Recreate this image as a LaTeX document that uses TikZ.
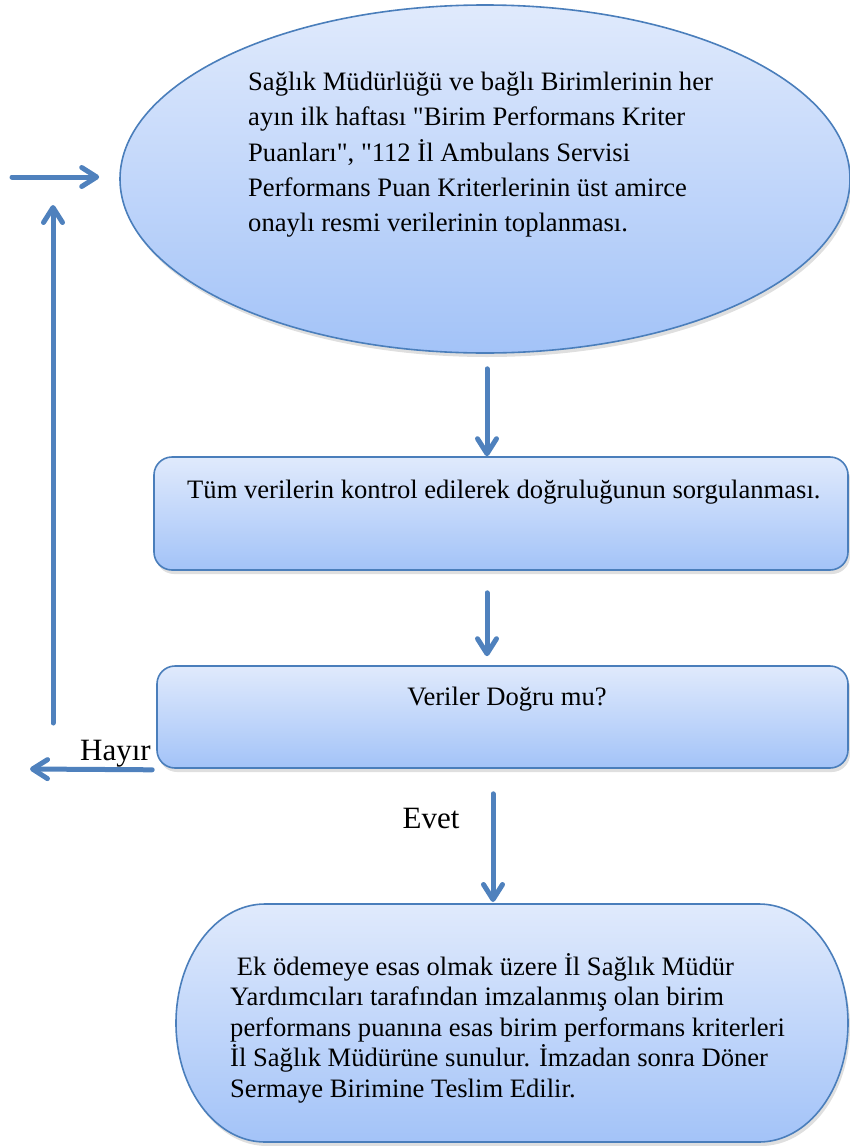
\documentclass[tikz,border=0pt]{standalone}
\usepackage{fontspec}
\setmainfont{Liberation Serif}[Ligatures=TeXOff]
\usetikzlibrary{shapes.geometric,shadows,arrows.meta}
\definecolor{edgec}{RGB}{74,126,187}
\definecolor{arrowc}{RGB}{79,129,189}
\definecolor{topc}{RGB}{224,234,252}
\definecolor{botc}{RGB}{163,195,248}
\begin{document}
\begin{tikzpicture}[x=1pt,y=-1pt,
  blob/.style={draw=edgec, line width=1.6pt, top color=topc, bottom color=botc,
    drop shadow={shadow xshift=2pt,shadow yshift=-4pt,opacity=0.25}},
  arr/.style={draw=arrowc, line width=5pt, line cap=round,
    -{Straight Barb[length=15pt,width=19pt,round]}},
  txt/.style={font=\fontsize{26.6}{35.25}\selectfont, inner sep=0pt, align=left},
  txtb/.style={font=\fontsize{26.6}{30.5}\selectfont, inner sep=0pt, align=left},
  lab/.style={font=\fontsize{31}{36}\selectfont, inner sep=0pt}
]
\useasboundingbox (0,0) rectangle (850,1146);

% shapes
\node[blob, ellipse, minimum width=730pt, minimum height=348pt, inner sep=0pt] (e) at (485,179) {};
\node[blob, rectangle, rounded corners=18pt, minimum width=694pt, minimum height=113pt, inner sep=0pt] (b1) at (501,513.5) {};
\node[blob, rectangle, rounded corners=18pt, minimum width=691pt, minimum height=102pt, inner sep=0pt] (b2) at (502.5,717) {};
\path[blob] (265,904) -- (759,904)
  .. controls (808.2,904) and (848,957.3) .. (848,1023)
  .. controls (848,1088.7) and (808.2,1142) .. (759,1142)
  -- (265,1142)
  .. controls (215.8,1142) and (176,1088.7) .. (176,1023)
  .. controls (176,957.3) and (215.8,904) .. (265,904) -- cycle;
\coordinate (b3n) at (493,904);

% texts (base anchor = baseline of last line)
\node[txt, anchor=base west] (et) at (248,231.7) {Sağlık Müdürlüğü ve bağlı Birimlerinin her\\ayın ilk haftası "Birim Performans Kriter\\Puanları", "112 İl Ambulans Servisi\\Performans Puan Kriterlerinin üst amirce\\onaylı resmi verilerinin toplanması.};
\node[txt, anchor=base west] (b1t) at (187,498) {Tüm verilerin kontrol edilerek doğruluğunun sorgulanması.};
\node[txt, anchor=base] (b2t) at (507,705) {Veriler Doğru mu?};
\node[txtb, anchor=base west] (b3t) at (230,1097) {\ Ek ödemeye esas olmak üzere İl Sağlık Müdür\\Yardımcıları tarafından imzalanmış olan birim\\performans puanına esas birim performans kriterleri\\İl Sağlık Müdürüne sunulur. İmzadan sonra Döner\\Sermaye Birimine Teslim Edilir.};
\node[lab, anchor=base east] (hay) at (151,760) {Hayır};
\node[lab, anchor=base] (evet) at (431,828) {Evet};

% connectors
\draw[arr] ([xshift=2pt,yshift=-15pt]e.south) -- ([xshift=-14pt]b1.north);
\draw[arr] ([xshift=-14pt,yshift=-22pt]b1.south) -- ([xshift=-15.5pt,yshift=9pt]b2.north);
\draw[arr, shorten >=2pt] ([xshift=-9.5pt,yshift=-25pt]b2.south) -- (b3n);
\coordinate (hl) at (30,769);
\draw[arr] ([xshift=-4pt,yshift=-1pt]b2.south west) -- (hl);
\coordinate (ub) at (53,723);
\coordinate (ut) at (53,205);
\draw[arr] (ub) -- (ut);
\coordinate (ra) at (12,177);
\draw[arr] (ra) -- ([xshift=-20pt,yshift=2pt]e.west);
\end{tikzpicture}
\end{document}
